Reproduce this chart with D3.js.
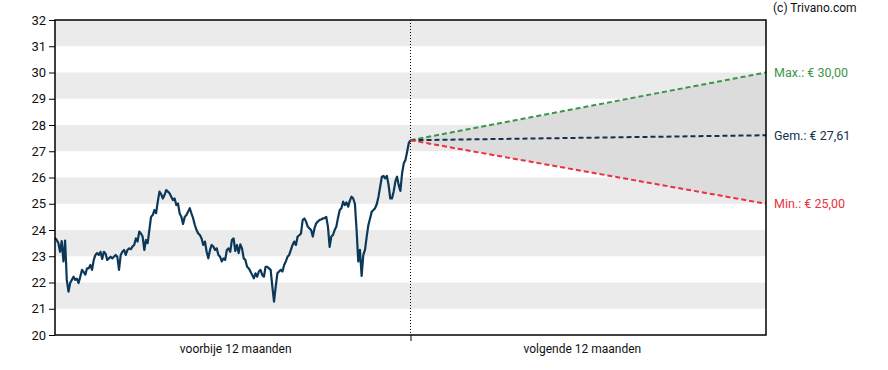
<html>
    <head>
        <style>
            body { margin: 0; background: #fff; }
            text { font-family: Roboto, "Liberation Sans", sans-serif; }
        </style>
        <script src="https://d3js.org/d3.v7.min.js"></script>
    </head>
    <body>
        <svg width="888" height="370"></svg>
        <script>
            // koers over de voorbije 12 maanden (ongeveer dagelijks)
            let prices = [
                23.70, 23.62, 23.50, 23.17, 23.58, 22.80, 23.60, 22.10, 21.65,
                21.98, 22.10, 22.22, 22.10, 22.15, 21.98, 22.22, 22.48, 22.40, 22.30, 22.54, 22.54, 22.67, 22.48, 22.86,
                23.05, 23.12, 23.05, 23.17, 22.90, 23.17, 23.10, 22.86, 22.92, 22.98, 22.92, 22.98, 23.05, 22.98, 22.48,
                23.05, 23.17, 23.24, 23.05, 23.24, 23.30, 23.27, 23.37, 23.43, 23.68, 23.56, 23.94, 23.87, 23.75, 23.24, 23.62,
                23.50, 24.00, 24.50, 24.57, 24.76, 24.64, 25.08, 25.46, 25.37, 25.20, 25.33, 25.52, 25.46, 25.40, 25.27,
                25.14, 25.20, 24.95, 25.01, 24.63, 24.50, 24.23, 24.50, 24.57, 24.70, 24.83, 24.63, 24.44, 24.19, 24.00,
                23.87, 23.81, 23.68, 23.43, 23.56, 23.17, 22.92, 23.24, 23.43, 23.37, 23.24, 23.30, 23.05, 22.98, 22.80,
                22.92, 22.86, 23.24, 23.30, 23.17, 23.62,
                23.68, 23.20, 23.43, 23.12, 23.45, 23.30, 22.92, 22.86, 22.60, 22.54, 22.42, 22.29, 22.16, 22.35, 22.22,
                22.42, 22.48, 22.29, 22.22, 22.60, 22.60, 22.54, 22.48, 21.84, 21.27, 21.84, 22.35, 22.42, 22.48, 22.42,
                22.67, 22.80, 22.98, 23.05, 23.24, 23.43, 23.56, 23.43, 23.75, 23.80, 23.87, 24.38, 24.44, 24.32, 24.13,
                24.06, 24.00, 23.75, 24.06, 24.25, 24.32, 24.38, 24.40, 24.44,
                24.45, 24.50, 24.13, 23.36, 23.75, 23.81, 24.00, 24.13, 24.48, 24.76, 24.83, 25.08, 24.95, 25.05, 24.89,
                25.12, 25.27, 25.20, 25.00, 24.00, 22.80, 23.24, 22.25, 23.05, 23.24, 23.75, 24.19, 24.44, 24.70, 24.76,
                24.83, 24.99, 25.27, 25.65, 26.03, 26.06, 25.97, 26.06, 25.71, 25.20, 25.20, 25.46, 25.84, 26.03, 25.71,
                25.49, 26.16, 26.54, 26.67, 26.98, 27.32, 27.42
            ]

            // koersdoelen voor de volgende 12 maanden
            let targetNames = ["Max.", "Gem.", "Min."]
            let targetValues = [30.00, 27.61, 25.00]
            let targetColors = ["#3b9648", "#14304d", "#e8333f"]

            let yTicks = [20, 21, 22, 23, 24, 25, 26, 27, 28, 29, 30, 31, 32]
            let periodLabels = ["voorbije 12 maanden", "volgende 12 maanden"]

            let svg = d3.select("svg"),
                pLeft = 55, pRight = 766, pTop = 20, pBottom = 335

            let xScale = d3.scaleLinear().domain([-12, 12]).range([pLeft, pRight]),
                yScale = d3.scaleLinear().domain([20, 32]).range([pBottom, pTop]),
                dayScale = d3.scaleLinear().domain([0, prices.length - 1]).range([-12, 0])

            // grijze banden
            svg.selectAll(".band")
                .data(yTicks.slice(0, -1).filter(function(d) { return d % 2 == 1 }))
                .enter().append("rect")
                .attr("x", pLeft)
                .attr("width", pRight - pLeft)
                .attr("y", function(d) { return yScale(d + 1) })
                .attr("height", function(d) { return yScale(d) - yScale(d + 1) })
                .attr("fill", "#ebebeb")

            let last = prices[prices.length - 1]

            // kegel tussen min en max
            svg.append("path")
                .attr("d", "M" + xScale(0) + "," + yScale(last) +
                    "L" + xScale(12) + "," + yScale(targetValues[0]) +
                    "L" + xScale(12) + "," + yScale(targetValues[2]) + "Z")
                .attr("fill", "#dcdcdc")

            // scheidingslijn
            svg.append("line")
                .attr("x1", xScale(0)).attr("x2", xScale(0))
                .attr("y1", pTop).attr("y2", pBottom)
                .attr("stroke", "#000")
                .attr("stroke-width", 1)
                .attr("stroke-dasharray", "1,2")

            let line = d3.line()
                .x(function(d, i) { return xScale(dayScale(i)) })
                .y(function(d) { return yScale(d) })

            svg.append("path")
                .datum(prices)
                .attr("d", line)
                .attr("fill", "none")
                .attr("stroke", "#0b3858")
                .attr("stroke-width", 2.2)
                .attr("stroke-linejoin", "round")

            targetValues.forEach(function(v, i) {
                svg.append("line")
                    .attr("x1", xScale(0)).attr("y1", yScale(last))
                    .attr("x2", xScale(12)).attr("y2", yScale(v))
                    .attr("stroke", targetColors[i])
                    .attr("stroke-width", 2)
                    .attr("stroke-dasharray", "5,3")

                svg.append("text")
                    .attr("x", pRight + 8)
                    .attr("y", yScale(v))
                    .attr("dy", "0.35em")
                    .attr("font-size", "12.5px")
                    .attr("fill", targetColors[i])
                    .text(targetNames[i] + ": € " + v.toFixed(2).replace(".", ","))
            })

            // kader
            svg.append("rect")
                .attr("x", pLeft).attr("y", pTop)
                .attr("width", pRight - pLeft).attr("height", pBottom - pTop)
                .attr("fill", "none")
                .attr("stroke", "#000")
                .attr("stroke-width", 1.5)

            let yAxis = svg.append("g")
                .attr("transform", "translate(" + pLeft + ",0)")
                .call(d3.axisLeft(yScale).tickValues(yTicks).tickSize(6).tickPadding(3))
            yAxis.select(".domain").remove()
            yAxis.selectAll("text").attr("font-size", "13px").attr("font-family", "Roboto").attr("fill", "#111")

            let xAxis = svg.append("g")
                .attr("transform", "translate(0," + pBottom + ")")
                .call(d3.axisBottom(xScale).tickValues([0]).tickSize(6).tickFormat(""))
            xAxis.select(".domain").remove()

            svg.selectAll(".period")
                .data(periodLabels)
                .enter().append("text")
                .attr("x", function(d, i) { return xScale(i == 0 ? -5.9 : 5.8) })
                .attr("y", pBottom + 14)
                .attr("dy", "0.35em")
                .attr("text-anchor", "middle")
                .attr("font-size", "12px")
                .attr("fill", "#111")
                .text(function(d) { return d })

            svg.append("text")
                .attr("x", pRight + 7)
                .attr("y", 8)
                .attr("dy", "0.35em")
                .attr("font-size", "12px")
                .attr("fill", "#111")
                .text("(c) Trivano.com")
        </script>
    </body>
</html>
